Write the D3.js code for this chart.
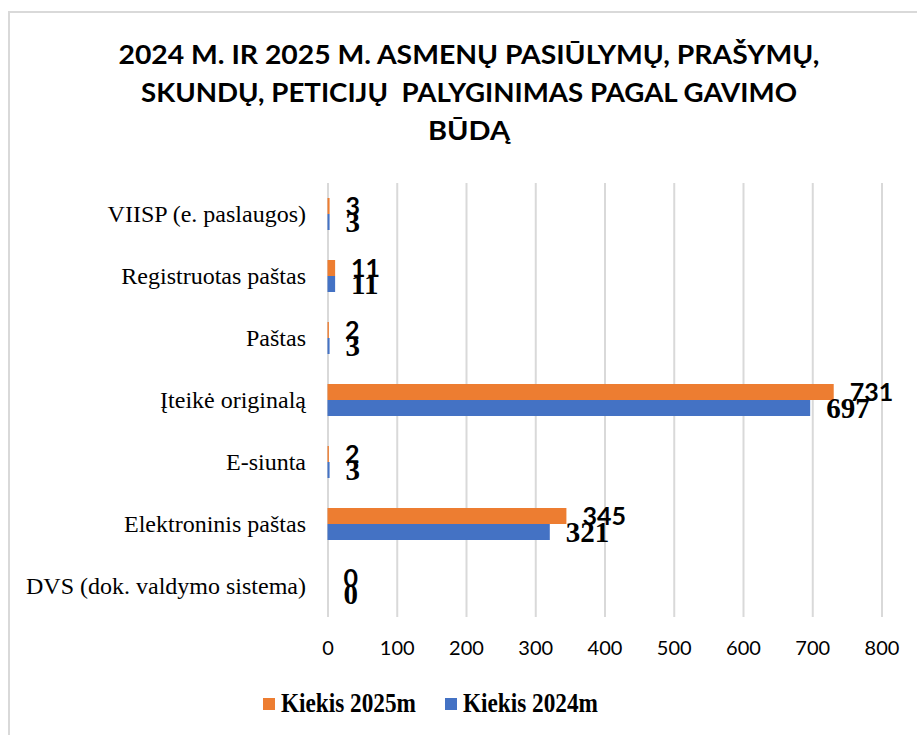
<!DOCTYPE html>
<html>
<head>
<meta charset="utf-8">
<script src="https://cdn.jsdelivr.net/npm/d3@7"></script>
<style>
  html, body { margin: 0; padding: 0; background: #fff; }
  svg { display: block; }
</style>
</head>
<body>
<svg id="chart" width="917" height="735"></svg>
<script>
const titleLines = [
  "2024 M. IR 2025 M. ASMENŲ PASIŪLYMŲ, PRAŠYMŲ,",
  "SKUNDŲ, PETICIJŲ  PALYGINIMAS PAGAL GAVIMO",
  "BŪDĄ"
];
const categories = [
  "VIISP (e. paslaugos)",
  "Registruotas paštas",
  "Paštas",
  "Įteikė originalą",
  "E-siunta",
  "Elektroninis paštas",
  "DVS (dok. valdymo sistema)"
];
const values2025 = [3, 11, 2, 731, 2, 345, 0];
const values2024 = [3, 11, 3, 697, 3, 321, 0];
const seriesNames = ["Kiekis 2025m", "Kiekis 2024m"];
const seriesColors = ["#ED7D31", "#4472C4"];
const xTicks = [0, 100, 200, 300, 400, 500, 600, 700, 800];

const svg = d3.select("#chart");

// outer border
svg.append("rect")
  .attr("x", 9).attr("y", 12).attr("width", 1000).attr("height", 1000)
  .attr("fill", "none").attr("stroke", "#d9d9d9").attr("stroke-width", 2);

// title
const titleWidths = [701, 656, 82];
const titleY = [64, 102, 140];
titleLines.forEach((t, i) => {
  svg.append("text")
    .attr("x", 469).attr("y", titleY[i])
    .attr("text-anchor", "middle")
    .attr("font-family", "Lato, 'Open Sans', sans-serif")
    .attr("font-weight", "bold")
    .attr("font-size", 26)
    .attr("fill", "#000")
    .style("white-space", "pre")
    .attr("textLength", titleWidths[i])
    .attr("lengthAdjust", "spacingAndGlyphs")
    .text(t);
});

const x = d3.scaleLinear().domain([0, 800]).range([327.5, 881.5]);
const y = d3.scaleBand().domain(categories).range([183, 617]).padding(0);
const inner = d3.scaleBand().domain(seriesNames).range([-16, 16]).padding(0);

// gridlines + tick labels
const axis = d3.axisBottom(x).tickValues(xTicks).tickSize(-(617 - 183)).tickPadding(0).tickFormat(d3.format("d"));
const gAxis = svg.append("g").attr("transform", "translate(0,617)").call(axis);
gAxis.select(".domain").remove();
gAxis.selectAll(".tick line").attr("stroke", "#d9d9d9").attr("stroke-width", 2);
gAxis.selectAll(".tick text")
  .attr("y", 38)
  .attr("dy", null)
  .attr("font-family", "Lato, 'Open Sans', sans-serif")
  .attr("font-size", 20)
  .attr("fill", "#000");

// category labels
svg.append("g").selectAll("text").data(categories).join("text")
  .attr("x", 306)
  .attr("y", d => y(d) + y.bandwidth() / 2)
  .attr("dy", "0.35em")
  .attr("text-anchor", "end")
  .attr("font-family", "'Liberation Serif', 'Times New Roman', serif")
  .attr("font-size", 24)
  .attr("fill", "#000")
  .text(d => d);

// bars + data labels
const series = [values2025, values2024];
const labelFonts = ["Lato, 'Open Sans', sans-serif", "'Liberation Serif', 'Times New Roman', serif"];
const labelSizes = [25, 29];
series.forEach((vals, si) => {
  const g = svg.append("g");
  g.selectAll("rect").data(categories).join("rect")
    .attr("x", x(0))
    .attr("y", d => y(d) + y.bandwidth() / 2 + inner(seriesNames[si]))
    .attr("width", (d, i) => x(vals[i]) - x(0))
    .attr("height", inner.bandwidth())
    .attr("fill", seriesColors[si]);
  g.selectAll("text").data(categories).join("text")
    .attr("x", (d, i) => x(vals[i]) + 16)
    .attr("y", d => y(d) + y.bandwidth() / 2 + inner(seriesNames[si]) + inner.bandwidth() / 2)
    .attr("dy", "0.36em")
    .attr("font-family", labelFonts[si])
    .attr("font-weight", "bold")
    .attr("font-size", labelSizes[si])
    .attr("fill", "#000")
    .text((d, i) => vals[i]);
});

// legend
const legendX = [263, 445];
seriesNames.forEach((n, i) => {
  svg.append("rect")
    .attr("x", legendX[i]).attr("y", 698).attr("width", 12).attr("height", 12)
    .attr("fill", seriesColors[i]);
  svg.append("text")
    .attr("x", legendX[i] + 18).attr("y", 712)
    .attr("font-family", "'Liberation Serif', 'Times New Roman', serif")
    .attr("font-weight", "bold")
    .attr("font-size", 27)
    .attr("fill", "#000")
    .attr("textLength", 135)
    .attr("lengthAdjust", "spacingAndGlyphs")
    .text(n);
});
</script>
</body>
</html>
